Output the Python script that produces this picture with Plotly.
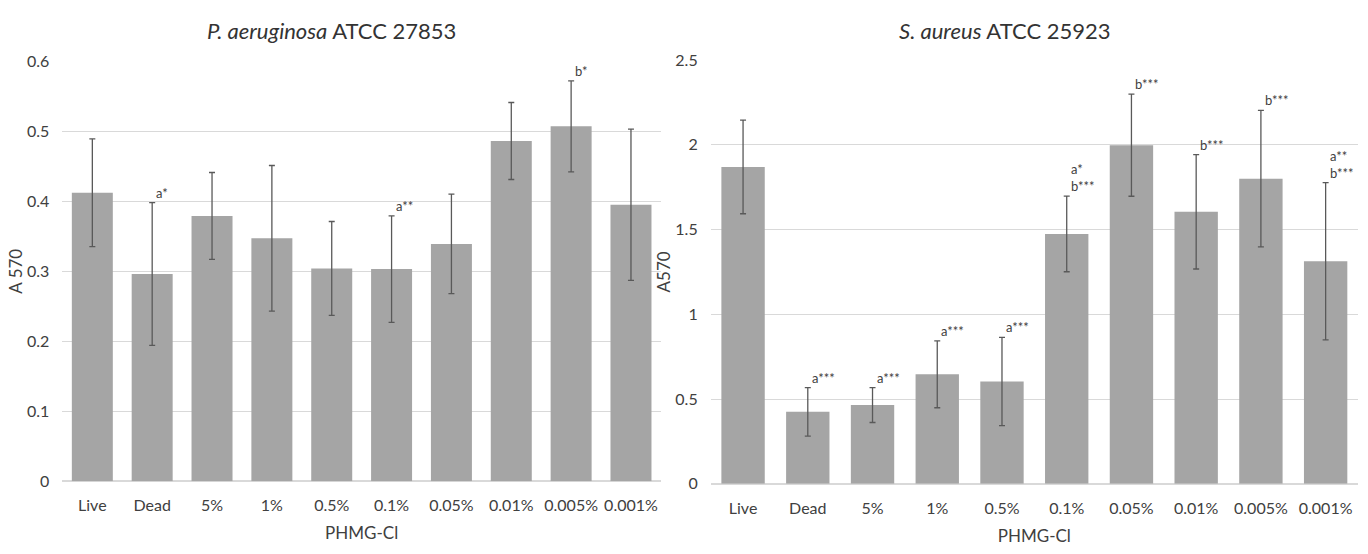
import plotly.graph_objects as go

# ---------------- data ----------------
categories = ["Live", "Dead", "5%", "1%", "0.5%", "0.1%", "0.05%", "0.01%", "0.005%", "0.001%"]

pa_mean = [0.412, 0.296, 0.379, 0.347, 0.304, 0.303, 0.339, 0.486, 0.507, 0.395]
pa_sd = [0.077, 0.102, 0.062, 0.104, 0.067, 0.076, 0.071, 0.055, 0.065, 0.108]
pa_labels = ["", "a*", "", "", "", "a**", "", "", "b*", ""]

sa_mean = [1.869, 0.425, 0.465, 0.646, 0.604, 1.474, 1.997, 1.604, 1.800, 1.313]
sa_sd = [0.276, 0.143, 0.103, 0.197, 0.260, 0.223, 0.301, 0.337, 0.402, 0.464]
sa_labels = ["", "a***", "a***", "a***", "a***", "a*<br>b***", "b***", "b***", "b***", "a**<br>b***"]

titles = ["<i>P. aeruginosa</i> ATCC 27853", "<i>S. aureus</i> ATCC 25923"]
y_titles = ["A 570", "A570"]
x_title = "PHMG-Cl"

# ---------------- style ----------------
FONT = "Lato"
BAR = "#A5A5A5"
ERR = "#595959"
GRID = "#D9D9D9"
TXT = "#404040"

fig = go.Figure()

fig.add_trace(go.Bar(
    x=categories, y=pa_mean, xaxis="x", yaxis="y",
    marker=dict(color=BAR, line=dict(width=0)), width=0.685,
    error_y=dict(type="data", array=pa_sd, visible=True, color=ERR, thickness=1.3, width=3),
    showlegend=False, hoverinfo="x+y",
))
fig.add_trace(go.Bar(
    x=categories, y=sa_mean, xaxis="x2", yaxis="y2",
    marker=dict(color=BAR, line=dict(width=0)), width=0.67,
    error_y=dict(type="data", array=sa_sd, visible=True, color=ERR, thickness=1.3, width=3),
    showlegend=False, hoverinfo="x+y",
))

annotations = []
for cats, means, sds, labels, xr, yr in [
    (categories, pa_mean, pa_sd, pa_labels, "x", "y"),
    (categories, sa_mean, sa_sd, sa_labels, "x2", "y2"),
]:
    for c, m, s, t in zip(cats, means, sds, labels):
        if not t:
            continue
        annotations.append(dict(
            x=c, y=m + s, xref=xr, yref=yr, text=t, showarrow=False,
            xanchor="left", yanchor="bottom", align="left", xshift=2, yshift=0,
            font=dict(family=FONT, size=13, color=TXT),
        ))

# chart titles
for xc, t in [(331 / 1368, titles[0]), (1005 / 1368, titles[1])]:
    annotations.append(dict(x=xc, y=1 - 21 / 554, xref="paper", yref="paper",
                            text=t, showarrow=False, xanchor="center", yanchor="middle",
                            font=dict(family=FONT, size=22, color="#333333")))

tickfont = dict(family=FONT, size=16, color=TXT)
titlefont = dict(family=FONT, size=17, color=TXT)

fig.update_layout(
    width=1368, height=554,
    margin=dict(l=0, r=0, t=0, b=0),
    paper_bgcolor="white", plot_bgcolor="white",
    annotations=annotations,
    xaxis=dict(domain=[62.4 / 1368, 660.9 / 1368], anchor="y", tickfont=tickfont,
               showgrid=False, showline=False, ticks="", ticklabelstandoff=13,
               title=dict(text=x_title, font=titlefont, standoff=13), fixedrange=True),
    yaxis=dict(domain=[(554 - 488) / 554, (554 - 53) / 554], anchor="x", range=[0, 0.6], dtick=0.1,
               tickfont=tickfont, gridcolor=GRID, gridwidth=1, zeroline=True, zerolinecolor=GRID,
               zerolinewidth=1.5, showline=False, ticks="", ticklabelstandoff=12,
               title=dict(text=y_titles[0], font=titlefont, standoff=0), fixedrange=True),
    xaxis2=dict(domain=[710.7 / 1368, 1358 / 1368], anchor="y2", tickfont=tickfont,
                showgrid=False, showline=False, ticks="", ticklabelstandoff=13,
                title=dict(text=x_title, font=titlefont, standoff=14), fixedrange=True),
    yaxis2=dict(domain=[(554 - 490.7) / 554, (554 - 51.7) / 554], anchor="x2", range=[0, 2.5], dtick=0.5,
                tickfont=tickfont, gridcolor=GRID, gridwidth=1, zeroline=True, zerolinecolor=GRID,
                zerolinewidth=1.5, showline=False, ticks="", ticklabelstandoff=12,
                title=dict(text=y_titles[1], font=titlefont, standoff=0), fixedrange=True),
)

fig.write_html(
    "out.html",
    config={"displayModeBar": False},
    post_script="document.body.style.margin='0';document.body.style.overflow='hidden';",
)
